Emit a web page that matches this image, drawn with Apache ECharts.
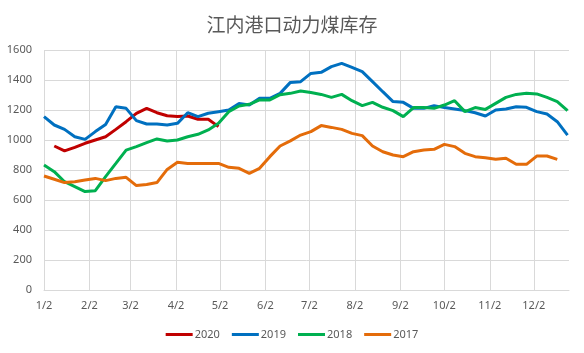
<!DOCTYPE html>
<html>
<head>
<meta charset="utf-8">
<script src="https://cdn.jsdelivr.net/npm/echarts@6/dist/echarts.min.js"></script>
<style>
  html, body { margin: 0; padding: 0; background: #fff; }
  #main { width: 584px; height: 353px; }
</style>
</head>
<body>
<div id="main"></div>
<script>
// weekly sample dates (shared by all years)
var weeks = ['1/2','1/9','1/16','1/23','1/30','2/6','2/13','2/20','2/27','3/6','3/13','3/20','3/27',
  '4/3','4/10','4/17','4/24','5/1','5/8','5/15','5/22','5/29','6/5','6/12','6/19','6/26',
  '7/3','7/10','7/17','7/24','7/31','8/7','8/14','8/21','8/28','9/4','9/11','9/18','9/25',
  '10/2','10/9','10/16','10/23','10/30','11/6','11/13','11/20','11/27','12/4','12/11','12/18','12/25'];

var y2020 = [null, 960, 927, 951, 978, 1000, 1022, 1071, 1122, 1178, 1211, 1182, 1162, 1156, 1160, 1138, 1138, 1089];
var y2019 = [1156, 1100, 1071, 1022, 1004, 1056, 1104, 1222, 1211, 1129, 1107, 1107, 1100,
  1111, 1182, 1156, 1178, 1189, 1200, 1244, 1233, 1278, 1278, 1311, 1384, 1389,
  1444, 1451, 1489, 1511, 1484, 1456, 1389, 1322, 1256, 1251, 1211, 1211, 1229,
  1216, 1207, 1196, 1182, 1160, 1200, 1207, 1222, 1218, 1189, 1173, 1122, 1033];
var y2018 = [833, 789, 722, 689, 656, 662, 756, 844, 933, 956, 982, 1007, 993,
  1000, 1022, 1038, 1067, 1111, 1189, 1227, 1238, 1267, 1267, 1302, 1311, 1327,
  1316, 1304, 1284, 1304, 1262, 1229, 1251, 1218, 1196, 1156, 1216, 1216, 1211,
  1233, 1262, 1189, 1216, 1204, 1244, 1284, 1304, 1311, 1307, 1284, 1256, 1196];
var y2017 = [760, 738, 716, 722, 733, 744, 729, 744, 751, 696, 704, 716, 804,
  851, 844, 844, 844, 844, 818, 811, 778, 811, 889, 960, 994, 1033,
  1056, 1096, 1084, 1071, 1044, 1029, 960, 922, 900, 889, 922, 933, 938,
  971, 956, 911, 889, 882, 871, 878, 838, 838, 893, 893, 871, null];

// daily axis Jan 2 .. Dec 26 so month gridlines fall on the 2nd
var days = [];
var mlen = [31, 28, 31, 30, 31, 30, 31, 31, 30, 31, 30, 31];
for (var m = 0; m < 12; m++) {
  for (var d = 1; d <= mlen[m]; d++) {
    if (m === 0 && d === 1) continue;
    if (m === 11 && d > 26) break;
    days.push((m + 1) + '/' + d);
  }
}

function pairs(vals) {
  var out = [];
  for (var i = 0; i < vals.length; i++) {
    if (vals[i] != null) out.push([weeks[i], vals[i]]);
  }
  return out;
}

function isMonthTick(index, value) {
  return value.split('/')[1] === '2';
}

var chart = echarts.init(document.getElementById('main'));
var lineCfg = function (name, color, vals) {
  return {
    name: name,
    type: 'line',
    data: pairs(vals),
    symbol: 'none',
    smooth: false,
    lineStyle: { width: 3, color: color },
    itemStyle: { color: color }
  };
};

chart.setOption({
  animation: false,
  textStyle: { fontFamily: '"Noto Sans", "Noto Sans CJK SC", sans-serif' },
  title: {
    text: '江内港口动力煤库存',
    left: 'center',
    top: 10,
    textStyle: { fontSize: 19, fontWeight: 'normal', color: '#595959', fontFamily: '"Noto Sans CJK SC", sans-serif' }
  },
  legend: {
    bottom: 8,
    left: 'center',
    icon: 'rect',
    itemWidth: 27,
    itemHeight: 3,
    itemGap: 12,
    textStyle: { fontSize: 11, color: '#595959', padding: [0, 0, 0, -3] },
    data: ['2020', '2019', '2018', '2017']
  },
  grid: { left: 44, right: 15, top: 50, bottom: 63 },
  xAxis: {
    type: 'category',
    boundaryGap: false,
    data: days,
    axisLine: { lineStyle: { color: '#D9D9D9' } },
    axisTick: { show: false },
    axisLabel: { interval: isMonthTick, color: '#595959', fontSize: 11, margin: 10 },
    splitLine: { show: true, interval: isMonthTick, lineStyle: { color: '#D9D9D9' } }
  },
  yAxis: {
    type: 'value',
    min: 0,
    max: 1600,
    interval: 200,
    axisLine: { show: false },
    axisTick: { show: false },
    axisLabel: { color: '#595959', fontSize: 11, margin: 12, formatter: function (v) { return String(v); } },
    splitLine: { lineStyle: { color: '#D9D9D9' } }
  },
  series: [
    lineCfg('2020', '#C00000', y2020),
    lineCfg('2019', '#0070C0', y2019),
    lineCfg('2018', '#00B050', y2018),
    lineCfg('2017', '#E46C0A', y2017)
  ]
});
</script>
</body>
</html>
